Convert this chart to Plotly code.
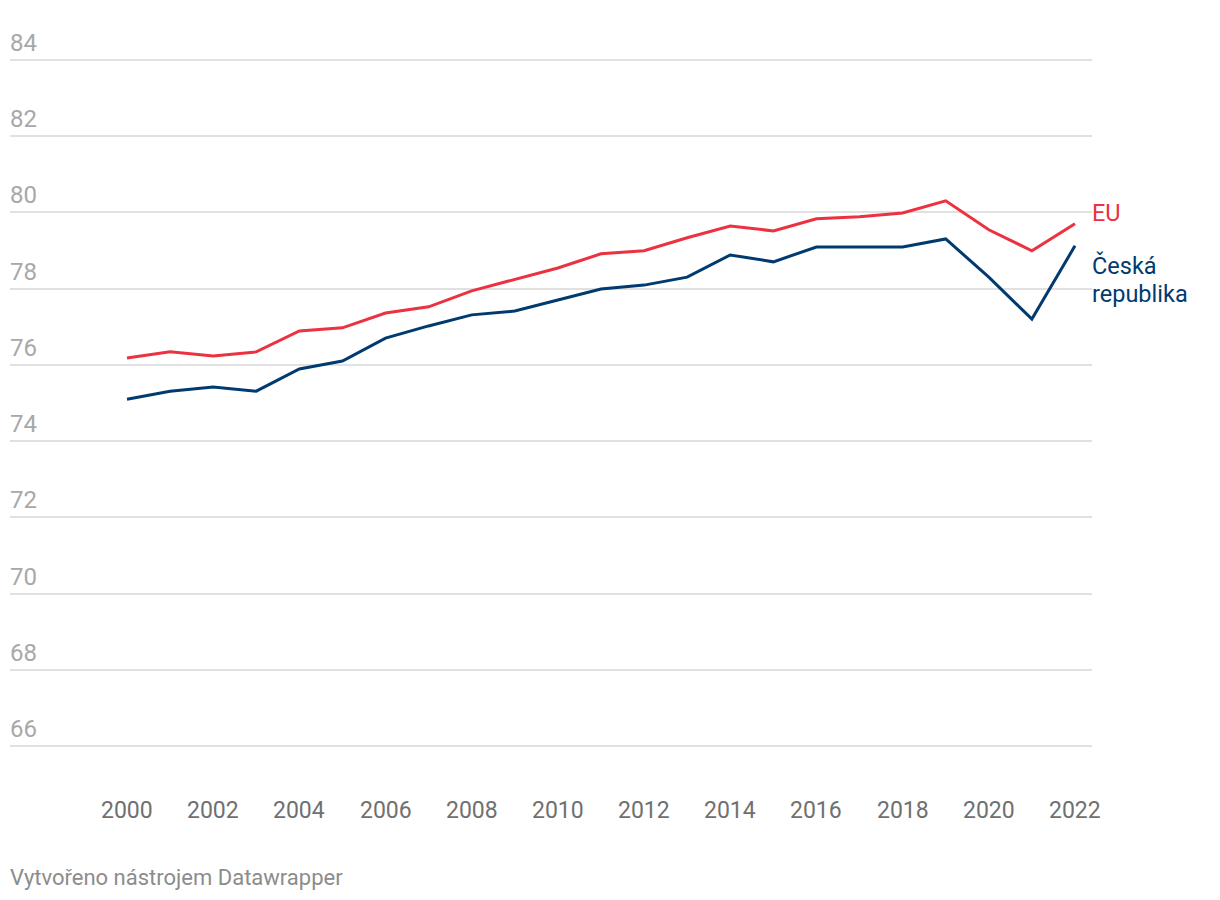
import plotly.graph_objects as go

years = list(range(2000, 2023))
eu = [76.18, 76.34, 76.23, 76.34, 76.89, 76.97, 77.36, 77.52, 77.94, 78.25, 78.54, 78.91,
      78.99, 79.33, 79.64, 79.51, 79.83, 79.88, 79.98, 80.30, 79.54, 78.99, 79.70]
cz = [75.10, 75.31, 75.42, 75.31, 75.89, 76.10, 76.70, 77.02, 77.31, 77.41, 77.70, 77.99,
      78.09, 78.30, 78.88, 78.70, 79.09, 79.09, 79.09, 79.30, 78.30, 77.20, 79.12]
y_ticks = [66, 68, 70, 72, 74, 76, 78, 80, 82, 84]
x_ticks = list(range(2000, 2023, 2))

RED = "#ec3141"
NAVY = "#003a6f"
FONT = "Roboto"

fig = go.Figure()
fig.add_trace(go.Scatter(x=years, y=eu, mode="lines", line=dict(color=RED, width=3),
                         showlegend=False, hoverinfo="skip"))
fig.add_trace(go.Scatter(x=years, y=cz, mode="lines", line=dict(color=NAVY, width=3),
                         showlegend=False, hoverinfo="skip"))

ann = []
for t in y_ticks:
    ann.append(dict(x=0, xref="paper", y=t, yref="y", text=str(t), showarrow=False,
                    xanchor="left", yanchor="middle", xshift=-2, yshift=17,
                    font=dict(family=FONT, size=24, color="#a8a8a8")))
for t in x_ticks:
    ann.append(dict(x=t, xref="x", y=0, yref="paper", text=str(t), showarrow=False,
                    xanchor="center", yanchor="middle", yshift=-56,
                    font=dict(family=FONT, size=23, color="#707070")))
ann.append(dict(x=1, xref="paper", y=eu[-1], yref="y", text="EU", showarrow=False,
                xanchor="left", yanchor="middle", xshift=-2, yshift=11,
                font=dict(family=FONT, size=23.5, color=RED)))
ann.append(dict(x=1, xref="paper", y=cz[-1], yref="y", text="Česká",
                showarrow=False, xanchor="left", yanchor="middle", xshift=-2, yshift=-20,
                font=dict(family=FONT, size=23.5, color=NAVY)))
ann.append(dict(x=1, xref="paper", y=cz[-1], yref="y", text="republika",
                showarrow=False, xanchor="left", yanchor="middle", xshift=-2, yshift=-48,
                font=dict(family=FONT, size=23.5, color=NAVY)))
ann.append(dict(x=0, xref="paper", y=0, yref="paper", text="Vytvořeno nástrojem Datawrapper",
                showarrow=False, xanchor="left", yanchor="middle", xshift=-2, yshift=-123,
                font=dict(family=FONT, size=22, color="#8c8c8c")))

fig.update_layout(
    width=1220, height=900,
    margin=dict(l=2, r=136, t=44, b=154),
    paper_bgcolor="white", plot_bgcolor="white",
    annotations=ann,
    xaxis=dict(range=[1997.285, 2022.395], showgrid=False, zeroline=False,
               showticklabels=False, ticks="", showline=False),
    yaxis=dict(range=[65.8, 84.2], tickvals=y_ticks, showticklabels=False,
               showgrid=True, gridcolor="#e1e1e1", gridwidth=1.5, zeroline=False,
               ticks="", showline=False),
)

fig.write_html("out.html")
